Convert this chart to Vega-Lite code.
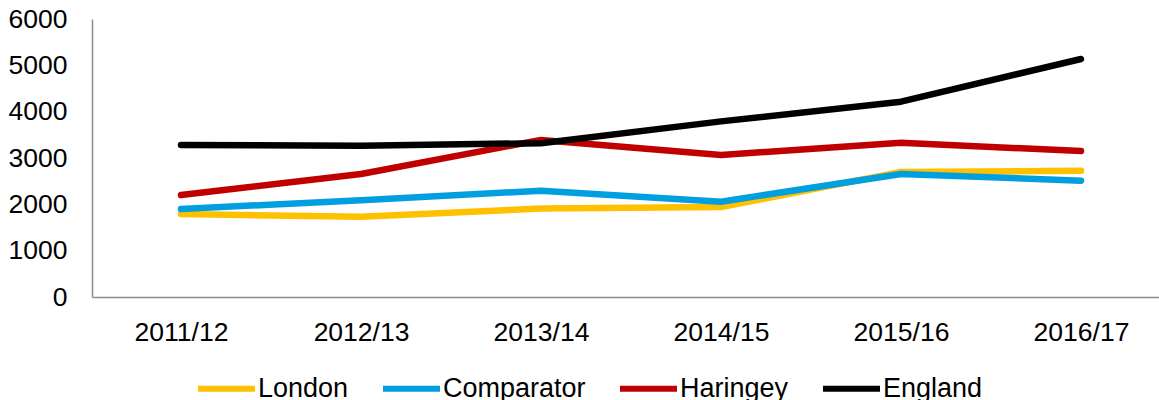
{
  "$schema": "https://vega.github.io/schema/vega-lite/v6.json",
  "width": 1067,
  "height": 278,
  "autosize": "none",
  "padding": {"left": 92, "top": 19, "right": 0, "bottom": 103},
  "background": "white",
  "config": {
    "view": {"stroke": null},
    "font": "Liberation Sans",
    "axis": {"labelFont": "Liberation Sans", "labelColor": "#000000", "labelFontSize": 26.5, "grid": false, "ticks": false, "domainColor": "#8c8c8c", "domainWidth": 1.5, "title": null},
    "legend": {"labelFont": "Liberation Sans", "labelFontSize": 27, "labelColor": "#000000"}
  },
  "data": {
    "values": [
      {"year": "2011/12", "series": "London", "value": 1790},
      {"year": "2012/13", "series": "London", "value": 1730},
      {"year": "2013/14", "series": "London", "value": 1910},
      {"year": "2014/15", "series": "London", "value": 1940},
      {"year": "2015/16", "series": "London", "value": 2700},
      {"year": "2016/17", "series": "London", "value": 2725},
      {"year": "2011/12", "series": "Comparator", "value": 1900},
      {"year": "2012/13", "series": "Comparator", "value": 2090},
      {"year": "2013/14", "series": "Comparator", "value": 2295},
      {"year": "2014/15", "series": "Comparator", "value": 2057},
      {"year": "2015/16", "series": "Comparator", "value": 2655},
      {"year": "2016/17", "series": "Comparator", "value": 2510},
      {"year": "2011/12", "series": "Haringey", "value": 2200},
      {"year": "2012/13", "series": "Haringey", "value": 2655},
      {"year": "2013/14", "series": "Haringey", "value": 3390},
      {"year": "2014/15", "series": "Haringey", "value": 3065},
      {"year": "2015/16", "series": "Haringey", "value": 3330},
      {"year": "2016/17", "series": "Haringey", "value": 3150},
      {"year": "2011/12", "series": "England", "value": 3281},
      {"year": "2012/13", "series": "England", "value": 3265},
      {"year": "2013/14", "series": "England", "value": 3320},
      {"year": "2014/15", "series": "England", "value": 3790},
      {"year": "2015/16", "series": "England", "value": 4215},
      {"year": "2016/17", "series": "England", "value": 5137}
    ]
  },
  "mark": {"type": "line", "strokeWidth": 6.5, "strokeCap": "round", "strokeJoin": "round"},
  "encoding": {
    "x": {
      "field": "year", "type": "ordinal", "sort": null,
      "scale": {"type": "point", "padding": 0.464, "align": 0.533},
      "axis": {"labelAngle": 0, "labelPadding": 22}
    },
    "y": {
      "field": "value", "type": "quantitative",
      "scale": {"domain": [0, 6000], "nice": false},
      "axis": {"values": [0, 1000, 2000, 3000, 4000, 5000, 6000], "format": "d", "labelPadding": 25}
    },
    "color": {
      "field": "series", "type": "nominal",
      "scale": {"domain": ["London", "Comparator", "Haringey", "England"], "range": ["#FFC000", "#009FDF", "#C00000", "#000000"]},
      "legend": {
        "title": null, "orient": "none", "direction": "horizontal",
        "legendX": 103, "legendY": 338,
        "symbolType": "stroke", "symbolSize": 3249, "symbolStrokeWidth": 6,
        "labelOffset": 0, "columnPadding": 22
      }
    }
  }
}
